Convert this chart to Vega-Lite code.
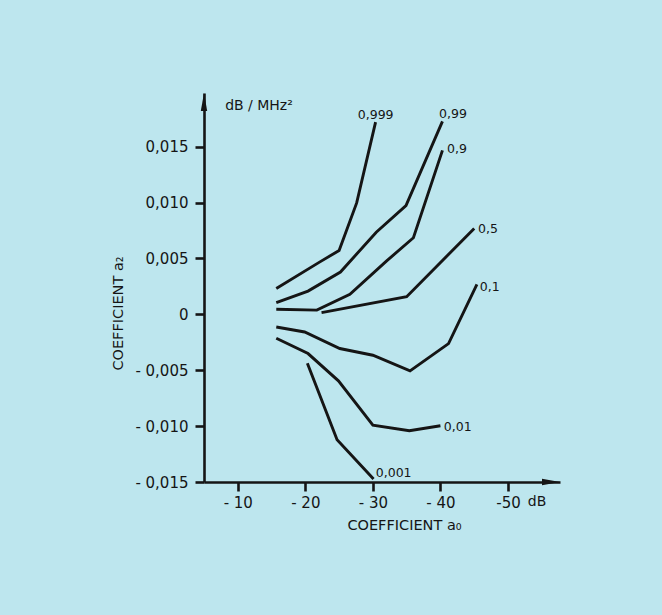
{
  "$schema": "https://vega.github.io/schema/vega-lite/v6.json",
  "width": 356,
  "height": 389,
  "autosize": "none",
  "padding": {"left": 204, "top": 93, "right": 102, "bottom": 133},
  "background": "#bde6ee",
  "config": {
    "view": {"stroke": null},
    "axis": {
      "grid": false,
      "domainColor": "#151515",
      "domainWidth": 2.6,
      "tickColor": "#151515",
      "tickWidth": 2.6,
      "tickSize": 9,
      "labelFont": "DejaVu Sans",
      "labelFontSize": 15,
      "labelColor": "#151515",
      "titleFont": "DejaVu Sans",
      "titleFontSize": 14.5,
      "titleFontWeight": "normal",
      "titleColor": "#151515"
    },
    "text": {"font": "DejaVu Sans", "color": "#151515"}
  },
  "datasets": {
    "curves": [
      {"p": "0,999", "a0": -15.7, "a2": 0.00232},
      {"p": "0,999", "a0": -22.1, "a2": 0.00467},
      {"p": "0,999", "a0": -25.0, "a2": 0.00571},
      {"p": "0,999", "a0": -27.6, "a2": 0.00997},
      {"p": "0,999", "a0": -30.4, "a2": 0.0172},
      {"p": "0,99", "a0": -15.7, "a2": 0.00104},
      {"p": "0,99", "a0": -20.4, "a2": 0.00208},
      {"p": "0,99", "a0": -25.2, "a2": 0.00378},
      {"p": "0,99", "a0": -30.5, "a2": 0.00735},
      {"p": "0,99", "a0": -34.9, "a2": 0.00973},
      {"p": "0,99", "a0": -40.3, "a2": 0.01726},
      {"p": "0,9", "a0": -15.7, "a2": 0.00045},
      {"p": "0,9", "a0": -21.7, "a2": 0.00038},
      {"p": "0,9", "a0": -26.6, "a2": 0.00179},
      {"p": "0,9", "a0": -32.0, "a2": 0.00476},
      {"p": "0,9", "a0": -36.0, "a2": 0.00685},
      {"p": "0,9", "a0": -40.3, "a2": 0.01467},
      {"p": "0,5", "a0": -22.4, "a2": 0.00015},
      {"p": "0,5", "a0": -35.0, "a2": 0.00158},
      {"p": "0,5", "a0": -45.0, "a2": 0.00768},
      {"p": "0,1", "a0": -15.7, "a2": -0.00113},
      {"p": "0,1", "a0": -19.9, "a2": -0.00158},
      {"p": "0,1", "a0": -25.1, "a2": -0.00306},
      {"p": "0,1", "a0": -30.0, "a2": -0.00366},
      {"p": "0,1", "a0": -35.5, "a2": -0.00506},
      {"p": "0,1", "a0": -41.2, "a2": -0.00262},
      {"p": "0,1", "a0": -45.4, "a2": 0.00268},
      {"p": "0,01", "a0": -15.7, "a2": -0.00214},
      {"p": "0,01", "a0": -20.4, "a2": -0.00351},
      {"p": "0,01", "a0": -24.9, "a2": -0.00595},
      {"p": "0,01", "a0": -30.0, "a2": -0.00991},
      {"p": "0,01", "a0": -35.4, "a2": -0.01042},
      {"p": "0,01", "a0": -40.0, "a2": -0.00997},
      {"p": "0,001", "a0": -20.3, "a2": -0.00438},
      {"p": "0,001", "a0": -24.7, "a2": -0.01122},
      {"p": "0,001", "a0": -30.1, "a2": -0.01473}
    ],
    "curveLabels": [
      {"p": "0,999", "a0": -27.76, "a2": 0.01786},
      {"p": "0,99", "a0": -39.8, "a2": 0.01792},
      {"p": "0,9", "a0": -40.99, "a2": 0.01479},
      {"p": "0,5", "a0": -45.57, "a2": 0.00763},
      {"p": "0,1", "a0": -45.83, "a2": 0.00247},
      {"p": "0,01", "a0": -40.5, "a2": -0.01005},
      {"p": "0,001", "a0": -30.43, "a2": -0.0142}
    ],
    "notes": [
      {"t": "dB / MHz²", "a0": -13.14, "a2": 0.01864},
      {"t": "dB", "a0": -54.3, "a2": -0.01679}
    ],
    "arrows": [
      {"dir": "up", "a0": -5, "a2": 0.0189},
      {"dir": "right", "a0": -56.22, "a2": -0.015}
    ]
  },
  "encoding": {
    "x": {
      "field": "a0",
      "type": "quantitative",
      "scale": {"domain": [-57.7, -5], "reverse": true, "nice": false, "zero": false},
      "axis": {
        "values": [-10, -20, -30, -40, -50],
        "labelExpr": "datum.value == -50 ? '-50' : '- ' + format(abs(datum.value), 'd')",
        "labelPadding": 4,
        "title": "COEFFICIENT a₀",
        "titleX": 200,
        "titleY": 43,
        "titleBaseline": "middle"
      }
    },
    "y": {
      "field": "a2",
      "type": "quantitative",
      "scale": {"domain": [-0.015, 0.0198], "nice": false, "zero": false},
      "axis": {
        "values": [-0.015, -0.01, -0.005, 0, 0.005, 0.01, 0.015],
        "labelExpr": "datum.value == 0 ? '0' : (datum.value < 0 ? '- ' : '') + replace(format(abs(datum.value), '.3f'), '.', ',')",
        "labelPadding": 7,
        "title": "COEFFICIENT a₂",
        "titleX": -86,
        "titleY": 220,
        "titleBaseline": "middle"
      }
    }
  },
  "layer": [
    {
      "data": {"name": "curves"},
      "mark": {"type": "line", "color": "#151515", "strokeWidth": 2.9, "strokeJoin": "miter"},
      "encoding": {"detail": {"field": "p"}}
    },
    {
      "data": {"name": "curveLabels"},
      "mark": {"type": "text", "align": "left", "baseline": "middle", "fontSize": 12.5},
      "encoding": {"text": {"field": "p"}}
    },
    {
      "data": {"name": "notes"},
      "mark": {"type": "text", "align": "center", "baseline": "middle", "fontSize": 14},
      "encoding": {"text": {"field": "t"}}
    },
    {
      "data": {"name": "arrows"},
      "transform": [{"filter": "datum.dir == 'up'"}],
      "mark": {"type": "point", "shape": "M0,-1L0.32,0.8L-0.32,0.8Z", "size": 400, "filled": true, "color": "#151515", "opacity": 1}
    },
    {
      "data": {"name": "arrows"},
      "transform": [{"filter": "datum.dir == 'right'"}],
      "mark": {"type": "point", "shape": "M1,0L-0.8,0.32L-0.8,-0.32Z", "size": 400, "filled": true, "color": "#151515", "opacity": 1}
    }
  ]
}
